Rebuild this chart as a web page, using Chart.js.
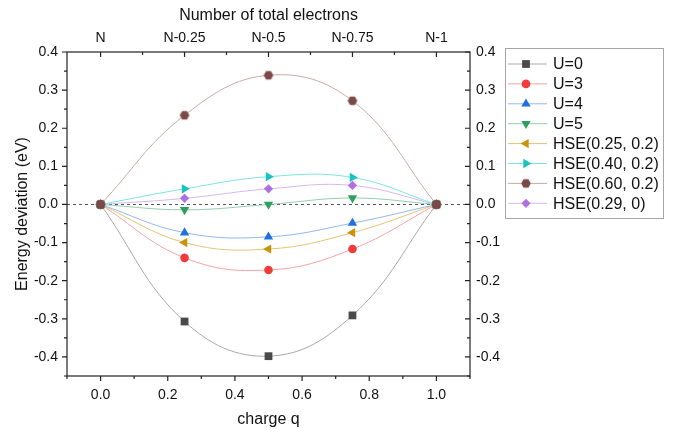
<!DOCTYPE html>
<html>
<head>
<meta charset="utf-8">
<script src="https://cdn.jsdelivr.net/npm/chart.js@4.4.1/dist/chart.umd.min.js"></script>
<style>
  body { margin: 0; background: #fff; }
</style>
</head>
<body>
<canvas id="chart" width="673" height="430"></canvas>
<script>
// values
const charges = [0, 0.25, 0.5, 0.75, 1];
const u0     = [0, -0.307, -0.398, -0.291, 0];
const u3     = [0, -0.140, -0.172, -0.117, 0];
const u4     = [0, -0.074, -0.085, -0.049, 0];
const u5     = [0, -0.014, 0.000, 0.017, 0];
const hse025 = [0, -0.100, -0.117, -0.074, 0];
const hse040 = [0, 0.041, 0.073, 0.071, 0];
const hse060 = [0, 0.234, 0.339, 0.272, 0];
const hse029 = [0, 0.016, 0.041, 0.050, 0];

const seriesNames = ['U=0', 'U=3', 'U=4', 'U=5', 'HSE(0.25, 0.2)', 'HSE(0.40, 0.2)', 'HSE(0.60, 0.2)', 'HSE(0.29, 0)'];
const xTicks = [0, 0.2, 0.4, 0.6, 0.8, 1.0];
const yTicks = [-0.4, -0.3, -0.2, -0.1, 0, 0.1, 0.2, 0.3, 0.4];
const topTicks = [0, 0.25, 0.5, 0.75, 1];
const topLabels = ['N', 'N-0.25', 'N-0.5', 'N-0.75', 'N-1'];

const FONT = "'Liberation Sans', Arial, sans-serif";

// hexagon marker for HSE(0.60, 0.2)
function hexagon(r, color) {
  const c = document.createElement('canvas');
  c.width = c.height = Math.ceil(r * 2 + 2);
  const g = c.getContext('2d');
  const cx = c.width / 2, cy = c.height / 2;
  g.beginPath();
  for (let i = 0; i < 6; i++) {
    const a = Math.PI / 3 * i;
    g.lineTo(cx + r * Math.cos(a), cy + r * Math.sin(a));
  }
  g.closePath();
  g.fillStyle = color;
  g.fill();
  return c;
}

const styles = [
  { line: '#a9a9a9', mark: '#4a4a4a', pointStyle: 'rect', radius: 5.5, rotation: 0 },
  { line: '#f7a3a3', mark: '#f23c3c', pointStyle: 'circle', radius: 4.3, rotation: 0 },
  { line: '#94b8f0', mark: '#1f6fe0', pointStyle: 'triangle', radius: 5.4, rotation: 0 },
  { line: '#93cfab', mark: '#2f9e5f', pointStyle: 'triangle', radius: 5.4, rotation: 180 },
  { line: '#e3c474', mark: '#c8930a', pointStyle: 'triangle', radius: 5.4, rotation: -90 },
  { line: '#7ee3e3', mark: '#17c2c2', pointStyle: 'triangle', radius: 5.4, rotation: 90 },
  { line: '#c9aaa8', mark: '#7a4a47', pointStyle: hexagon(4.8, '#7a4a47'), radius: 4.8, rotation: 0 },
  { line: '#d6b8f2', mark: '#b06fe3', pointStyle: 'rectRot', radius: 4.6, rotation: 0 }
];

const allSeries = [u0, u3, u4, u5, hse025, hse040, hse060, hse029];

const datasets = allSeries.map((vals, i) => ({
  label: seriesNames[i],
  data: charges.map((x, j) => ({ x: x, y: vals[j] })),
  showLine: true,
  tension: 0.4,
  order: i === 6 ? -1 : i,
  borderColor: styles[i].line,
  borderWidth: 1,
  backgroundColor: styles[i].mark,
  pointBackgroundColor: styles[i].mark,
  pointBorderColor: styles[i].mark,
  pointBorderWidth: 0,
  pointStyle: styles[i].pointStyle,
  pointRadius: styles[i].radius,
  pointRotation: styles[i].rotation
}));

const tickFont = { family: FONT, size: 14 };
const titleFont = { family: FONT, size: 16 };
const noGrid = { display: false, drawTicks: false, tickLength: 0 };

// zero line, frame, tick marks and legend
const decor = {
  id: 'decor',
  beforeDatasetsDraw(chart) {
    const ctx = chart.ctx;
    const a = chart.chartArea;
    const y0 = chart.scales.y.getPixelForValue(0);
    ctx.save();
    ctx.strokeStyle = '#555';
    ctx.lineWidth = 1;
    ctx.setLineDash([3, 3]);
    ctx.beginPath();
    ctx.moveTo(a.left, Math.round(y0) + 0.5);
    ctx.lineTo(a.right, Math.round(y0) + 0.5);
    ctx.stroke();
    ctx.restore();
  },
  afterDraw(chart) {
    const ctx = chart.ctx;
    const a = chart.chartArea;
    const sx = chart.scales.x, sy = chart.scales.y;
    ctx.save();
    ctx.strokeStyle = '#222';
    ctx.lineWidth = 1.2;
    ctx.strokeRect(a.left, a.top, a.right - a.left, a.bottom - a.top);
    ctx.beginPath();
    // bottom ticks, outward
    for (let k = -1; k <= 11; k++) {
      const px = sx.getPixelForValue(k / 10);
      const len = k % 2 === 0 ? 5 : 3;
      ctx.moveTo(px, a.bottom); ctx.lineTo(px, a.bottom + len);
    }
    // top ticks, inward
    for (let k = 0; k <= 8; k++) {
      const px = sx.getPixelForValue(k / 8);
      const len = k % 2 === 0 ? 5 : 3;
      ctx.moveTo(px, a.top); ctx.lineTo(px, a.top + len);
    }
    // left outward, right inward
    for (let k = -9; k <= 8; k++) {
      const py = sy.getPixelForValue(k / 20);
      const len = k % 2 === 0 ? 5 : 3;
      ctx.moveTo(a.left, py); ctx.lineTo(a.left - len, py);
      ctx.moveTo(a.right, py); ctx.lineTo(a.right - len, py);
    }
    ctx.stroke();

    // legend
    const lx = 505, ly = 48, lw = 158, lh = 170;
    ctx.strokeStyle = '#a6a6a6';
    ctx.lineWidth = 1;
    ctx.strokeRect(lx + 0.5, ly + 0.5, lw, lh);
    ctx.font = '16px ' + FONT;
    ctx.textBaseline = 'middle';
    chart.data.datasets.forEach((ds, i) => {
      const yy = ly + 16 + i * 19.9;
      ctx.strokeStyle = ds.borderColor;
      ctx.lineWidth = 1;
      ctx.beginPath();
      ctx.moveTo(lx + 3, yy); ctx.lineTo(lx + 42, yy);
      ctx.stroke();
      ctx.fillStyle = ds.pointBackgroundColor;
      Chart.helpers.drawPoint(ctx, {
        pointStyle: ds.pointStyle, radius: ds.pointRadius,
        rotation: ds.pointRotation, borderWidth: 0
      }, lx + 21, yy);
      ctx.fillStyle = '#111';
      ctx.fillText(ds.label, lx + 48, yy + 1);
    });
    ctx.restore();
  }
};

new Chart(document.getElementById('chart'), {
  type: 'scatter',
  data: { datasets: datasets },
  options: {
    responsive: false,
    animation: false,
    layout: { padding: { left: 0, right: 153, top: 0, bottom: 0 } },
    plugins: { legend: { display: false }, tooltip: { enabled: false } },
    scales: {
      x: {
        type: 'linear', position: 'bottom', min: -0.1, max: 1.1,
        afterBuildTicks: s => { s.ticks = xTicks.map(v => ({ value: v })); },
        afterFit: s => { s.height = 54; },
        grid: noGrid, border: { display: false },
        ticks: { font: tickFont, color: '#111', padding: 11, maxRotation: 0, callback: v => v.toFixed(1) },
        title: { display: true, text: 'charge q', font: titleFont, color: '#111', padding: { top: 0, bottom: 1 } }
      },
      x2: {
        type: 'linear', position: 'top', min: -0.1, max: 1.1,
        afterBuildTicks: s => { s.ticks = topTicks.map(v => ({ value: v })); },
        afterFit: s => { s.height = 52; },
        grid: noGrid, border: { display: false },
        ticks: { font: tickFont, color: '#111', padding: 5, maxRotation: 0, callback: (v, i) => topLabels[i] },
        title: { display: true, text: 'Number of total electrons', font: titleFont, color: '#111', padding: { top: 6, bottom: 0 } }
      },
      y: {
        type: 'linear', position: 'left', min: -0.45, max: 0.4,
        afterBuildTicks: s => { s.ticks = yTicks.map(v => ({ value: v })); },
        afterFit: s => { s.width = 67; },
        grid: noGrid, border: { display: false },
        ticks: { font: tickFont, color: '#111', padding: 9, callback: v => v.toFixed(1) },
        title: { display: true, text: 'Energy deviation (eV)', font: titleFont, color: '#111', padding: { top: 13, bottom: 0 } }
      },
      y2: {
        type: 'linear', position: 'right', min: -0.45, max: 0.4,
        afterBuildTicks: s => { s.ticks = yTicks.map(v => ({ value: v })); },
        afterFit: s => { s.width = 50; },
        grid: noGrid, border: { display: false },
        ticks: { font: tickFont, color: '#111', padding: 6, callback: v => v.toFixed(1) }
      }
    }
  },
  plugins: [decor]
});
</script>
</body>
</html>
